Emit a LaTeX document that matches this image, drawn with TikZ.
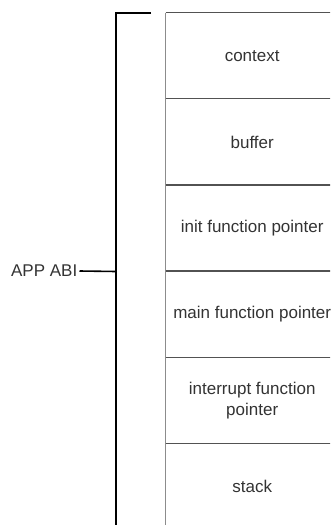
\documentclass[tikz,border=0pt]{standalone}
\usepackage{fontspec}
\setmainfont{Liberation Sans}
\begin{document}
\begin{tikzpicture}[x=1pt,y=-1pt,
  cell/.style={minimum width=173pt,minimum height=86.2pt,inner sep=0pt,anchor=north west,font=\fontsize{17}{20.5}\selectfont,align=center,text=black!80},
  edge/.style={draw=black!45,line width=1.4pt},
  sep/.style={draw=black!68,line width=1.5pt},
  brk/.style={draw=black,line width=2pt},
  lbl/.style={font=\fontsize{17}{20.5}\selectfont,text=black!80,inner sep=0pt}]
\useasboundingbox (0,0) rectangle (330,525);
\clip (0,0) rectangle (330,525);
\node[cell] (c1) at (165.5,12.5) {context};
\node[cell] (c2) at (165.5,98.7) {buffer};
\node[cell] (c3) at (165.5,184.9) {init function pointer};
\node[cell] (c4) at (165.5,271.1) {main function pointer};
\node[cell] (c5) at (165.5,357.3) {interrupt function\\pointer};
\node[cell] (c6) at (165.5,443.5) {stack};
\draw[edge] (c1.north west) -- (c6.south west);
\draw[edge] (c1.north east) -- (c6.south east);
\draw[sep] (c1.north west) -- (c1.north east);
\draw[sep] (c2.north west) -- (c2.north east);
\draw[sep] (c3.north west) -- (c3.north east);
\draw[sep] (c4.north west) -- (c4.north east);
\draw[sep] (c5.north west) -- (c5.north east);
\draw[sep] (c6.north west) -- (c6.north east);
\coordinate (bt) at (151,12.5);
\coordinate (bc) at (116,12.5);
\coordinate (bb) at (116,540);
\coordinate (bm) at (116,271.5);
\node[lbl,anchor=east] (abi) at (77.5,271) {APP ABI};
\draw[brk] (bt) -- (bc) -- (bb);
\draw[draw=black,line width=1.6pt] (abi.east) ++(2pt,0) -- (bm);
\end{tikzpicture}
\end{document}
